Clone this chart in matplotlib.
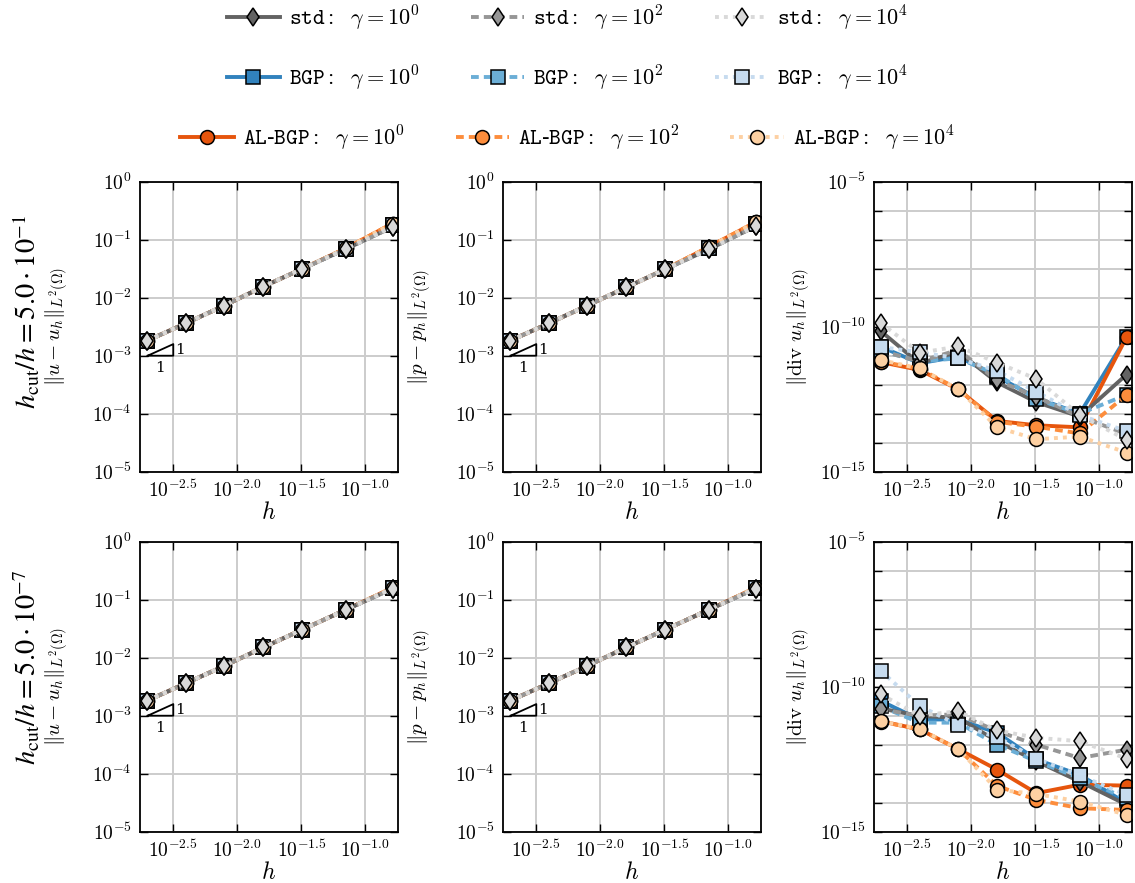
import numpy as np
import matplotlib
matplotlib.use("Agg")
import matplotlib.pyplot as plt
from matplotlib.ticker import FixedLocator, FixedFormatter, NullLocator, NullFormatter

plt.rcParams['mathtext.fontset'] = 'cm'
plt.rcParams['font.family'] = ['DejaVu Serif']

# ---------------- data ----------------
h = [0.00196, 0.00394, 0.00789, 0.0159, 0.0322, 0.0703, 0.163]

methods = ['std', 'BGP', 'AL-BGP']
gamma_labels = ['10^{0}', '10^{2}', '10^{4}']

# L2 errors (velocity / pressure), same for all gamma within a method
u_err_top = {
    'std':    [1.8e-3, 3.6e-3, 7.3e-3, 1.55e-2, 3.15e-2, 6.9e-2, 1.65e-1],
    'BGP':    [1.8e-3, 3.6e-3, 7.3e-3, 1.55e-2, 3.15e-2, 7.0e-2, 1.80e-1],
    'AL-BGP': [1.8e-3, 3.6e-3, 7.3e-3, 1.55e-2, 3.15e-2, 7.1e-2, 1.90e-1],
}
p_err_top = {
    'std':    [1.8e-3, 3.6e-3, 7.3e-3, 1.5e-2, 3.1e-2, 6.8e-2, 1.70e-1],
    'BGP':    [1.8e-3, 3.6e-3, 7.3e-3, 1.5e-2, 3.1e-2, 7.2e-2, 1.90e-1],
    'AL-BGP': [1.8e-3, 3.6e-3, 7.3e-3, 1.5e-2, 3.1e-2, 7.5e-2, 2.00e-1],
}
u_err_bot = {
    'std':    [1.8e-3, 3.6e-3, 7.2e-3, 1.5e-2, 3.05e-2, 6.7e-2, 1.55e-1],
    'BGP':    [1.8e-3, 3.6e-3, 7.2e-3, 1.5e-2, 3.05e-2, 6.7e-2, 1.58e-1],
    'AL-BGP': [1.8e-3, 3.6e-3, 7.2e-3, 1.5e-2, 3.05e-2, 6.7e-2, 1.60e-1],
}
p_err_bot = {
    'std':    [1.8e-3, 3.6e-3, 7.2e-3, 1.5e-2, 3.05e-2, 6.7e-2, 1.55e-1],
    'BGP':    [1.8e-3, 3.6e-3, 7.2e-3, 1.5e-2, 3.05e-2, 6.7e-2, 1.58e-1],
    'AL-BGP': [1.8e-3, 3.6e-3, 7.2e-3, 1.5e-2, 3.05e-2, 6.7e-2, 1.60e-1],
}

# log10 of divergence error, per method and gamma (10^0, 10^2, 10^4)
div_log_top = {
    'std': [[-10.15, -11.27, -10.86, -11.92, -12.60, -13.10, -11.65],
            [-10.83, -11.20, -10.80, -11.85, -12.41, -13.10, -13.70],
            [-9.87, -10.90, -10.68, -11.24, -11.80, -13.05, -13.90]],
    'BGP': [[-10.69, -11.26, -11.03, -11.72, -12.45, -13.00, -10.35],
            [-10.83, -11.20, -11.09, -11.65, -12.50, -13.00, -12.35],
            [-10.70, -10.88, -11.09, -11.52, -12.24, -13.05, -13.60]],
    'AL-BGP': [[-11.22, -11.49, -12.16, -13.25, -13.40, -13.47, -10.36],
               [-11.20, -11.45, -12.15, -13.28, -13.45, -13.68, -12.36],
               [-11.15, -11.44, -12.15, -13.47, -13.88, -13.79, -14.34]],
}
div_log_bot = {
    'std': [[-10.75, -11.01, -11.07, -11.88, -12.57, -13.27, -14.07],
            [-10.78, -11.00, -10.95, -11.53, -12.00, -12.46, -12.17],
            [-10.26, -11.00, -10.84, -11.51, -11.76, -11.88, -12.48]],
    'BGP': [[-10.49, -11.13, -11.13, -11.59, -12.51, -13.04, -14.02],
            [-10.68, -11.24, -11.24, -12.00, -12.57, -13.15, -13.85],
            [-9.45, -10.66, -11.32, -11.74, -12.48, -13.06, -13.73]],
    'AL-BGP': [[-11.19, -11.47, -12.15, -12.86, -13.67, -13.38, -13.41],
               [-11.20, -11.47, -12.15, -13.42, -13.90, -14.19, -14.25],
               [-11.19, -11.45, -12.15, -13.55, -13.70, -13.96, -14.42]],
}

x_tick_values = [10**-2.5, 10**-2.0, 10**-1.5, 10**-1.0]
x_tick_labels = [r'$10^{-2.5}$', r'$10^{-2.0}$', r'$10^{-1.5}$', r'$10^{-1.0}$']
row_labels = [r'$h_{\mathrm{cut}}/h = 5.0\cdot 10^{-1}$', r'$h_{\mathrm{cut}}/h = 5.0\cdot 10^{-7}$']
ylabels = [r'$\|u - u_h\|_{L^2(\Omega)}$', r'$\|p - p_h\|_{L^2(\Omega)}$',
           r'$\|\mathrm{div}\ u_h\|_{L^2(\Omega)}$']

# ---------------- style ----------------
colors = {'std': ['#636363', '#969696', '#d9d9d9'],
          'BGP': ['#3182bd', '#6baed6', '#c6dbef'],
          'AL-BGP': ['#e6550d', '#fd8d3c', '#fdd0a2']}
markers = {'std': 'd', 'BGP': 's', 'AL-BGP': 'o'}
msizes = {'std': 9.5, 'BGP': 10, 'AL-BGP': 10}
linestyles = ['-', (0, (2.0, 1.3)), (0, (1.0, 1.3))]
draw_order = ['BGP', 'AL-BGP', 'std']
tt_names = {'std': r'$\mathtt{std}$', 'BGP': r'$\mathtt{BGP}$',
            'AL-BGP': r'$\mathtt{AL}$-$\mathtt{BGP}$'}

W, H = 1135, 883
fig = plt.figure(figsize=(W / 100, H / 100), dpi=100)

lefts = [140, 503, 874]
tops = [181.7, 541.7]
aw, ah = 258, 290

def style_axes(ax, right_panel):
    ax.set_xscale('log')
    ax.set_yscale('log')
    ax.set_xlim(10**-2.76, 10**-0.745)
    ax.xaxis.set_major_locator(FixedLocator(x_tick_values))
    ax.xaxis.set_major_formatter(FixedFormatter(x_tick_labels))
    ax.xaxis.set_minor_locator(NullLocator())
    if right_panel:
        ax.set_ylim(1e-15, 1e-5)
        ax.yaxis.set_major_locator(FixedLocator([1e-15, 1e-10, 1e-5]))
        ax.yaxis.set_major_formatter(FixedFormatter([r'$10^{-15}$', r'$10^{-10}$', r'$10^{-5}$']))
        ax.yaxis.set_minor_locator(FixedLocator([10.0**k for k in range(-14, -5) if k != -10]))
        ax.yaxis.set_minor_formatter(NullFormatter())
    else:
        ax.set_ylim(1e-5, 1e0)
        ax.yaxis.set_major_locator(FixedLocator([10.0**k for k in range(-5, 1)]))
        ax.yaxis.set_major_formatter(FixedFormatter([r'$10^{%d}$' % k for k in range(-5, 1)]))
        ax.yaxis.set_minor_locator(NullLocator())
    ax.tick_params(which='both', direction='in', top=True, right=True,
                   length=6, width=1.0, labelsize=14, pad=6)
    ax.grid(True, which='major', color='#cccccc', lw=1.4)
    if right_panel:
        ax.grid(True, which='minor', axis='y', color='#cccccc', lw=1.4)
    ax.set_axisbelow(True)
    for s in ax.spines.values():
        s.set_linewidth(1.3)

def slope_triangle(ax):
    x0, x1, y0 = 10**-2.7, 10**-2.5, 1e-3
    y1 = y0 * x1 / x0
    ax.plot([x0, x1, x1, x0], [y0, y0, y1, y0], color='k', lw=1.3, zorder=5)
    ax.text(x1 * 1.03, np.sqrt(y0 * y1), '1', fontsize=11, ha='left', va='center')
    ax.text(np.sqrt(x0 * x1), y0 * 0.82, '1', fontsize=11, ha='center', va='top')

legend_handles = {}
for r in range(2):
    for c in range(3):
        left = lefts[c] / W
        bottom = 1 - (tops[r] + ah) / H
        ax = fig.add_axes([left, bottom, aw / W, ah / H])
        style_axes(ax, c == 2)
        for gi in range(3):
            for m in draw_order:
                if c == 2:
                    src = div_log_top if r == 0 else div_log_bot
                    y = 10.0 ** np.array(src[m][gi])
                else:
                    if r == 0:
                        y = (u_err_top if c == 0 else p_err_top)[m]
                    else:
                        y = (u_err_bot if c == 0 else p_err_bot)[m]
                ln, = ax.plot(h, y, color=colors[m][gi], ls=linestyles[gi], lw=2.8,
                              marker=markers[m], ms=msizes[m], mfc=colors[m][gi],
                              mec='k', mew=1.1)
                legend_handles[(m, gi)] = ln
        if c < 2:
            slope_triangle(ax)
        ax.set_ylabel(ylabels[c], fontsize=15)
        ax.yaxis.set_label_coords(-0.27 if c < 2 else -0.24, 0.5)
        ax.set_xlabel(r'$h$', fontsize=17)
        ax.xaxis.set_label_coords(0.5, -0.1)

# row labels
fig.text(27 / W, 1 - 312 / H, row_labels[0], rotation=90, fontsize=20.5,
         ha='center', va='center', math_fontfamily='stix')
fig.text(27 / W, 1 - 667 / H, row_labels[1], rotation=90, fontsize=20.5,
         ha='center', va='center', math_fontfamily='stix')

# legends (one row per method)
row_y = [18, 78, 138]
for mi, m in enumerate(methods):
    hs = [legend_handles[(m, gi)] for gi in range(3)]
    labs = [tt_names[m] + r'$:\ \ \gamma = %s$' % gamma_labels[gi] for gi in range(3)]
    fig.legend(hs, labs, loc='center', bbox_to_anchor=(0.5, 1 - row_y[mi] / H),
               ncol=3, frameon=False, fontsize=16, handlelength=2.4,
               handletextpad=0.4, columnspacing=2.3, numpoints=1)

fig.savefig('out.png', dpi=100)
